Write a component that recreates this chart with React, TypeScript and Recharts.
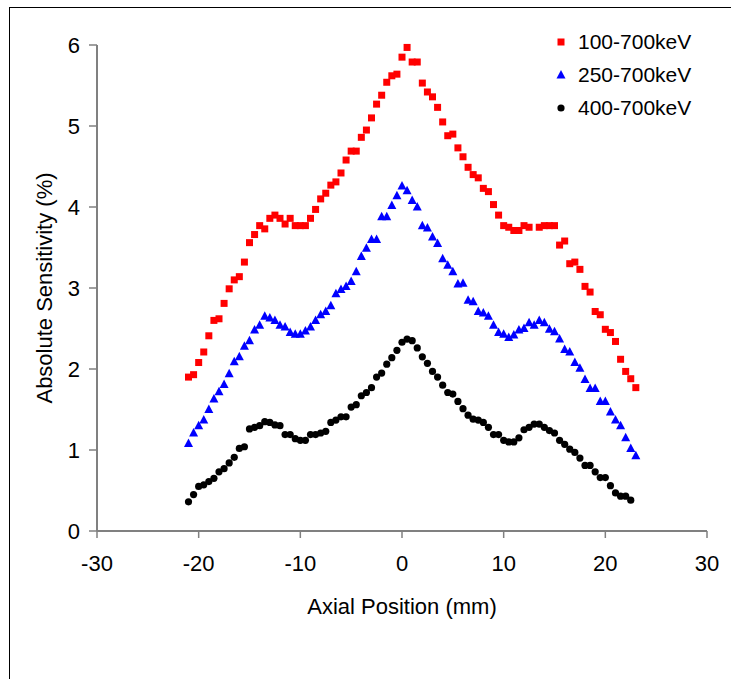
import { ScatterChart, Scatter, XAxis, YAxis, Legend } from "recharts";

const axialPos = [
  -21, -20.5, -20, -19.5, -19, -18.5, -18, -17.5, -17, -16.5, -16, -15.5, -15, -14.5, -14, -13.5,
  -13, -12.5, -12, -11.5, -11, -10.5, -10, -9.5, -9, -8.5, -8, -7.5, -7, -6.5, -6, -5.5, -5, -4.5,
  -4, -3.5, -3, -2.5, -2, -1.5, -1, -0.5, 0, 0.5, 1, 1.5, 2, 2.5, 3, 3.5, 4, 4.5, 5, 5.5, 6, 6.5,
  7, 7.5, 8, 8.5, 9, 9.5, 10, 10.5, 11, 11.5, 12, 12.5, 13, 13.5, 14, 14.5, 15, 15.5, 16, 16.5, 17,
  17.5, 18, 18.5, 19, 19.5, 20, 20.5, 21, 21.5, 22, 22.5, 23,
];

// 100-700keV (one point missing near 13 mm)
const sens100 = [
  1.9, 1.93, 2.08, 2.21, 2.41, 2.6, 2.62, 2.81, 2.99, 3.1, 3.14, 3.32, 3.56, 3.66, 3.77, 3.73,
  3.86, 3.9, 3.86, 3.79, 3.86, 3.77, 3.77, 3.77, 3.86, 3.97, 4.1, 4.17, 4.27, 4.31, 4.42, 4.58, 4.69, 4.69,
  4.86, 4.95, 5.1, 5.27, 5.38, 5.54, 5.62, 5.64, 5.85, 5.97, 5.79, 5.79, 5.53, 5.42, 5.36, 5.23, 5.05, 4.88, 4.9, 4.73, 4.62, 4.49,
  4.4, 4.36, 4.23, 4.19, 4.03, 3.9, 3.77, 3.75, 3.71, 3.71, 3.77, 3.75, null, 3.75, 3.77, 3.77, 3.77, 3.53, 3.58, 3.3, 3.32,
  3.23, 3.02, 2.95, 2.71, 2.67, 2.49, 2.45, 2.34, 2.12, 1.97, 1.88, 1.77,
];

// 250-700keV
const sens250 = [
  1.08, 1.21, 1.3, 1.37, 1.5, 1.63, 1.72, 1.81, 1.94, 2.09, 2.15, 2.28, 2.35, 2.48, 2.54, 2.65,
  2.63, 2.6, 2.54, 2.52, 2.45, 2.43, 2.43, 2.47, 2.52, 2.6, 2.67, 2.71, 2.78, 2.93, 2.98, 3.02, 3.08, 3.2,
  3.39, 3.49, 3.6, 3.6, 3.88, 3.88, 4.02, 4.14, 4.26, 4.2, 4.08, 4.0, 3.77, 3.74, 3.63, 3.55, 3.36, 3.28, 3.2, 3.05, 3.06, 2.85,
  2.83, 2.71, 2.69, 2.65, 2.54, 2.45, 2.43, 2.39, 2.42, 2.48, 2.5, 2.57, 2.54, 2.6, 2.57, 2.49, 2.46, 2.37, 2.24, 2.21, 2.08,
  2.01, 1.87, 1.76, 1.76, 1.6, 1.6, 1.47, 1.37, 1.3, 1.15, 1.02, 0.93,
];

// 400-700keV (ends at 22.5 mm)
const sens400 = [
  0.36, 0.45, 0.55, 0.57, 0.61, 0.65, 0.73, 0.77, 0.84, 0.91, 1.02, 1.04, 1.26, 1.28, 1.3, 1.35,
  1.34, 1.31, 1.3, 1.19, 1.19, 1.14, 1.12, 1.12, 1.19, 1.19, 1.21, 1.23, 1.34, 1.37, 1.41, 1.41, 1.53, 1.56,
  1.67, 1.71, 1.77, 1.9, 1.95, 2.06, 2.14, 2.23, 2.33, 2.37, 2.35, 2.26, 2.15, 2.07, 1.97, 1.9, 1.8, 1.71, 1.69, 1.6, 1.51, 1.43,
  1.38, 1.37, 1.34, 1.28, 1.19, 1.19, 1.12, 1.1, 1.1, 1.15, 1.25, 1.28, 1.32, 1.32, 1.28, 1.24, 1.21, 1.12, 1.07, 1.01, 0.97,
  0.9, 0.81, 0.81, 0.73, 0.66, 0.66, 0.56, 0.47, 0.43, 0.43, 0.38,
];

const xTicks = [-30, -20, -10, 0, 10, 20, 30];
const yTicks = [0, 1, 2, 3, 4, 5, 6];
const seriesNames = ["100-700keV", "250-700keV", "400-700keV"];

const FONT = "'Liberation Sans', Arial, sans-serif";

function toPoints(vals: (number | null)[]) {
  const pts: { x: number; y: number }[] = [];
  vals.forEach((v, i) => {
    if (v != null) pts.push({ x: axialPos[i], y: v });
  });
  return pts;
}

const SquareMark = (p: any) => (
  <rect x={p.cx - 3.5} y={p.cy - 3.5} width={7} height={7} fill="#FF0000" />
);
const TriangleMark = (p: any) => (
  <polygon
    points={`${p.cx},${p.cy - 5} ${p.cx + 4.5},${p.cy + 3.5} ${p.cx - 4.5},${p.cy + 3.5}`}
    fill="#0000FF"
  />
);
const DotMark = (p: any) => <circle cx={p.cx} cy={p.cy} r={3.6} fill="#000000" />;

function LegendBox() {
  const rows = [
    { name: seriesNames[0], mark: <rect x={5.5} y={10.5} width={7} height={7} fill="#FF0000" /> },
    { name: seriesNames[1], mark: <polygon points="9,9 13.5,17.5 4.5,17.5" fill="#0000FF" /> },
    { name: seriesNames[2], mark: <circle cx={9} cy={14} r={3.6} fill="#000" /> },
  ];
  return (
    <div style={{ fontFamily: FONT }}>
      {rows.map((r) => (
        <div key={r.name} style={{ display: "flex", alignItems: "center", height: 33 }}>
          <svg width={26} height={28}>{r.mark}</svg>
          <span style={{ fontSize: 21, color: "#000" }}>{r.name}</span>
        </div>
      ))}
    </div>
  );
}

export default function App() {
  return (
    <div
      style={{
        position: "fixed",
        left: 0,
        top: 0,
        width: 731,
        height: 679,
        overflow: "hidden",
        background: "#fff",
      }}
    >
      <div
        style={{
          position: "absolute",
          left: 9,
          top: 7,
          width: 800,
          height: 800,
          border: "1.5px solid #000",
        }}
      />
      <div style={{ position: "absolute", left: 0, top: 0 }}>
        <ScatterChart
          width={731}
          height={679}
          margin={{ top: 45, right: 24, bottom: 108, left: 37 }}
        >
          <XAxis
            type="number"
            dataKey="x"
            domain={[-30, 30]}
            ticks={xTicks}
            interval={0}
            axisLine={{ stroke: "#808080", strokeWidth: 2 }}
            tickLine={{ stroke: "#808080", strokeWidth: 1.5 }}
            tickSize={7}
            tickMargin={17}
            height={40}
            tick={{ fill: "#000", fontSize: 22, fontFamily: FONT }}
            label={{
              content: (p: any) => {
                const vb = p.viewBox;
                return (
                  <text
                    x={vb.x + vb.width / 2}
                    y={614}
                    textAnchor="middle"
                    fontSize={22}
                    fontFamily={FONT}
                    fill="#000"
                  >
                    Axial Position (mm)
                  </text>
                );
              },
            }}
          />
          <YAxis
            type="number"
            dataKey="y"
            domain={[0, 6]}
            ticks={yTicks}
            interval={0}
            width={60}
            axisLine={{ stroke: "#808080", strokeWidth: 2 }}
            tickLine={{ stroke: "#808080", strokeWidth: 1.5 }}
            tickSize={8}
            tickMargin={9}
            tick={{ fill: "#000", fontSize: 22, fontFamily: FONT }}
            label={{
              content: (p: any) => {
                const vb = p.viewBox;
                const cy = vb.y + vb.height / 2;
                return (
                  <text
                    x={52}
                    y={cy}
                    transform={`rotate(-90 52 ${cy})`}
                    textAnchor="middle"
                    fontSize={22}
                    fontFamily={FONT}
                    fill="#000"
                  >
                    Absolute Sensitivity (%)
                  </text>
                );
              },
            }}
          />
          <Legend
            layout="vertical"
            align="center"
            verticalAlign="middle"
            content={() => <LegendBox />}
            wrapperStyle={{ position: "absolute", left: 552, top: 25, width: 170 }}
          />
          <Scatter
            name={seriesNames[0]}
            data={toPoints(sens100)}
            shape={SquareMark}
            isAnimationActive={false}
          />
          <Scatter
            name={seriesNames[1]}
            data={toPoints(sens250)}
            shape={TriangleMark}
            isAnimationActive={false}
          />
          <Scatter
            name={seriesNames[2]}
            data={toPoints(sens400)}
            shape={DotMark}
            isAnimationActive={false}
          />
        </ScatterChart>
      </div>
    </div>
  );
}
